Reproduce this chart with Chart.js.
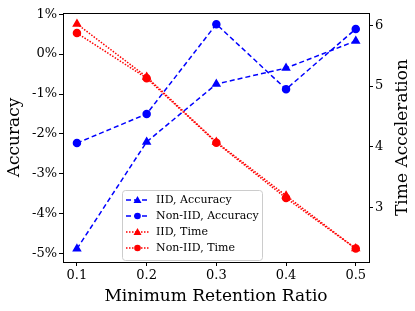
<!DOCTYPE html>
<html>
<head>
<meta charset="utf-8">
<script src="https://cdn.jsdelivr.net/npm/chart.js@4.4.1/dist/chart.umd.min.js"></script>
<style>
  html, body { margin: 0; padding: 0; background: #fff; }
  #wrap { width: 415px; height: 311px; }
</style>
</head>
<body>
<div id="wrap"><canvas id="c" width="415" height="311"></canvas></div>
<script>
// values
const ratios = [0.1, 0.2, 0.3, 0.4, 0.5];
const iidAcc = [-4.88, -2.2, -0.75, -0.35, 0.33];
const nonIidAcc = [-2.23, -1.5, 0.75, -0.88, 0.63];
const iidTime = [6.02, 5.15, 4.08, 3.2, 2.33];
const nonIidTime = [5.87, 5.13, 4.07, 3.16, 2.33];

const FONT = "'DejaVu Serif', serif";

function pts(ys) {
    return ratios.map((x, i) => ({ x: x, y: ys[i] }));
}

const frame = {
    id: "frame",
    afterDraw: function(chart) {
        const a = chart.chartArea;
        const ctx = chart.ctx;
        ctx.save();
        ctx.strokeStyle = "#000";
        ctx.lineWidth = 1;
        ctx.strokeRect(a.left + 0.5, a.top + 0.5, a.right - a.left, a.bottom - a.top);

        // right axis title, reading bottom to top like matplotlib
        ctx.save();
        ctx.translate(403, (a.top + a.bottom) / 2);
        ctx.rotate(-Math.PI / 2);
        ctx.font = "17px " + FONT;
        ctx.fillStyle = "#000";
        ctx.textAlign = "center";
        ctx.textBaseline = "middle";
        ctx.fillText("Time Acceleration", 0, 0);
        ctx.restore();

        // legend box inside the plot
        const items = chart.data.datasets;
        const lx = 122, ly = 190, lw = 140, lh = 70, row = 16;
        ctx.fillStyle = "rgba(255,255,255,0.8)";
        ctx.strokeStyle = "#ccc";
        ctx.beginPath();
        ctx.roundRect(lx + 0.5, ly + 0.5, lw, lh, 3);
        ctx.fill();
        ctx.stroke();
        ctx.font = "11px " + FONT;
        ctx.textBaseline = "middle";
        items.forEach((d, i) => {
            const y = ly + 10 + i * row;
            ctx.strokeStyle = d.borderColor;
            ctx.lineWidth = d.borderWidth;
            ctx.setLineDash(d.borderDash);
            ctx.beginPath();
            ctx.moveTo(lx + 4, y);
            ctx.lineTo(lx + 27, y);
            ctx.stroke();
            ctx.setLineDash([]);
            ctx.fillStyle = d.borderColor;
            ctx.beginPath();
            if (d.pointStyle === "triangle") {
                ctx.moveTo(lx + 15.5, y - 4);
                ctx.lineTo(lx + 19.5, y + 3);
                ctx.lineTo(lx + 11.5, y + 3);
                ctx.closePath();
            } else {
                ctx.arc(lx + 15.5, y, 3.3, 0, Math.PI * 2);
            }
            ctx.fill();
            ctx.fillStyle = "#000";
            ctx.fillText(d.label, lx + 34, y);
        });
        ctx.restore();
    }
};

new Chart(document.getElementById("c"), {
    type: "line",
    data: {
        datasets: [{
            label: "IID, Accuracy",
            data: pts(iidAcc),
            yAxisID: "y",
            borderColor: "#0000ff",
            backgroundColor: "#0000ff",
            borderWidth: 1.5,
            borderDash: [5, 3],
            pointStyle: "triangle",
            pointRadius: 4
        }, {
            label: "Non-IID, Accuracy",
            data: pts(nonIidAcc),
            yAxisID: "y",
            borderColor: "#0000ff",
            backgroundColor: "#0000ff",
            borderWidth: 1.5,
            borderDash: [5, 3],
            pointStyle: "circle",
            pointRadius: 3.5
        }, {
            label: "IID, Time",
            data: pts(iidTime),
            yAxisID: "y1",
            borderColor: "#ff0000",
            backgroundColor: "#ff0000",
            borderWidth: 1.5,
            borderDash: [1.5, 1.5],
            pointStyle: "triangle",
            pointRadius: 4
        }, {
            label: "Non-IID, Time",
            data: pts(nonIidTime),
            yAxisID: "y1",
            borderColor: "#ff0000",
            backgroundColor: "#ff0000",
            borderWidth: 1.5,
            borderDash: [1.5, 1.5],
            pointStyle: "circle",
            pointRadius: 3.5
        }]
    },
    options: {
        responsive: false,
        animation: false,
        layout: { padding: { top: 13 } },
        plugins: {
            legend: { display: false },
            tooltip: { enabled: false }
        },
        scales: {
            x: {
                type: "linear",
                min: 0.08,
                max: 0.519,
                afterBuildTicks: (axis) => { axis.ticks = ratios.map(v => ({ value: v })); },
                afterFit: (axis) => { axis.height = 49; },
                grid: { drawOnChartArea: false, tickLength: 4, color: "#000" },
                border: { color: "#000" },
                ticks: {
                    color: "#000",
                    font: { family: FONT, size: 13 },
                    padding: 2,
                    callback: (v) => v.toFixed(1)
                },
                title: {
                    display: true,
                    text: "Minimum Retention Ratio",
                    color: "#000",
                    font: { family: FONT, size: 17 },
                    padding: { top: 0 }
                }
            },
            y: {
                position: "left",
                min: -5.21,
                max: 1.03,
                afterBuildTicks: (axis) => { axis.ticks = [-5, -4, -3, -2, -1, 0, 1].map(v => ({ value: v })); },
                afterFit: (axis) => { axis.width = 63; },
                grid: { drawOnChartArea: false, tickLength: 4, color: "#000" },
                border: { color: "#000" },
                ticks: {
                    color: "#000",
                    font: { family: FONT, size: 13 },
                    padding: 2,
                    callback: (v) => v + "%"
                },
                title: {
                    display: true,
                    text: "Accuracy",
                    color: "#000",
                    font: { family: FONT, size: 17 },
                    padding: { bottom: 0 }
                }
            },
            y1: {
                position: "right",
                min: 2.11,
                max: 6.2,
                afterBuildTicks: (axis) => { axis.ticks = [3, 4, 5, 6].map(v => ({ value: v })); },
                afterFit: (axis) => { axis.width = 46; },
                grid: { drawOnChartArea: false, tickLength: 4, color: "#000" },
                border: { color: "#000" },
                ticks: {
                    color: "#000",
                    font: { family: FONT, size: 13 },
                    padding: 2
                },
                title: { display: false }
            }
        }
    },
    plugins: [frame]
});
</script>
</body>
</html>
